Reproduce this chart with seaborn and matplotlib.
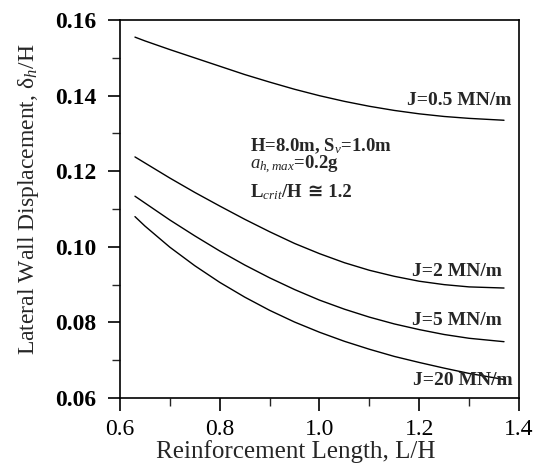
import numpy as np
import pandas as pd
import matplotlib
matplotlib.use("Agg")
import matplotlib.pyplot as plt
import seaborn as sns
from matplotlib.ticker import MultipleLocator

# values
lh = [0.63, 0.65, 0.70, 0.75, 0.80, 0.85, 0.90, 0.95, 1.00,
      1.05, 1.10, 1.15, 1.20, 1.25, 1.30, 1.37]
disp_j05 = [0.1555, 0.1545, 0.1522, 0.1500, 0.1478, 0.1456, 0.1436, 0.1417, 0.1400,
            0.1385, 0.1372, 0.1361, 0.1352, 0.1345, 0.1340, 0.1335]
disp_j2 = [0.1238, 0.1222, 0.1182, 0.1144, 0.1108, 0.1073, 0.1040, 0.1009, 0.0982,
           0.0958, 0.0938, 0.0922, 0.0909, 0.0900, 0.0894, 0.0891]
disp_j5 = [0.1134, 0.1116, 0.1071, 0.1029, 0.0989, 0.0952, 0.0918, 0.0887, 0.0859,
           0.0835, 0.0814, 0.0796, 0.0781, 0.0768, 0.0758, 0.0749]
disp_j20 = [0.1080, 0.1055, 0.0999, 0.0950, 0.0906, 0.0867, 0.0832, 0.0801, 0.0774,
            0.0750, 0.0729, 0.0710, 0.0694, 0.0679, 0.0665, 0.0649]
series_names = ["J=0.5 MN/m", "J=2 MN/m", "J=5 MN/m", "J=20 MN/m"]

df = pd.concat([
    pd.DataFrame({"LH": lh, "disp": d, "J": n})
    for d, n in zip([disp_j05, disp_j2, disp_j5, disp_j20], series_names)
], ignore_index=True)

sns.set_style("ticks")
plt.rcParams['font.family'] = ['Liberation Serif', 'DejaVu Sans']
plt.rcParams['mathtext.fontset'] = 'custom'
plt.rcParams['mathtext.default'] = 'regular'
plt.rcParams['mathtext.rm'] = 'Liberation Serif'
plt.rcParams['mathtext.it'] = 'Liberation Serif:italic'
plt.rcParams['mathtext.bf'] = 'Liberation Serif:bold'

fig = plt.figure(figsize=(5.44, 4.68), dpi=100)
ax = fig.add_axes([0.2206, 0.1496, 0.7334, 0.8074])

sns.lineplot(data=df, x="LH", y="disp", hue="J", palette=["black"] * 4,
             linewidth=1.0, legend=False, ax=ax)

ax.set_xlim(0.6, 1.4)
ax.set_ylim(0.06, 0.16)
ax.xaxis.set_major_locator(MultipleLocator(0.2))
ax.xaxis.set_minor_locator(MultipleLocator(0.1))
ax.yaxis.set_major_locator(MultipleLocator(0.02))
ax.yaxis.set_minor_locator(MultipleLocator(0.01))
ax.xaxis.set_major_formatter(plt.FuncFormatter(lambda v, p: f"{v:.1f}"))
ax.yaxis.set_major_formatter(plt.FuncFormatter(lambda v, p: f"{v:.2f}"))
ax.tick_params(which="major", direction="out", length=9, width=1.2, labelsize=17, colors="black")
ax.tick_params(which="minor", direction="out", length=6, width=1.0)
ax.tick_params(axis="y", pad=8)
ax.tick_params(axis="x", pad=6)
for lbl in ax.get_yticklabels():
    lbl.set_fontweight("bold")
for s in ax.spines.values():
    s.set_linewidth(1.2)
    s.set_color("black")

ax.set_xlabel("Reinforcement Length, L/H", fontsize=18)
ax.set_ylabel(r"Lateral Wall Displacement, $\delta_{\mathit{h}}$/H", fontsize=17)
ax.xaxis.set_label_coords(0.44, -0.112)
ax.yaxis.set_label_coords(-0.198, 0.526)

# curve labels
label_pos = [(1.384, 0.1388), (1.366, 0.0936), (1.366, 0.0806), (1.388, 0.0645)]
for (tx, ty), name in zip(label_pos, series_names):
    ax.text(tx, ty, name, ha="right", va="center", fontsize=14, fontweight="bold")

ax.text(0.861, 0.1267, r"H=8.0m, S$_{\mathit{v}}$=1.0m", fontsize=13.5, fontweight="bold", va="center")
ax.text(0.861, 0.1217, r"$\mathit{a}_{\mathit{h,max}}$=0.2g", fontsize=13.5, fontweight="bold", va="center")
t = ax.text(0.861, 0.1144, r"L$_{\mathit{crit}}$/H", fontsize=13.5, fontweight="bold", va="center")
ax.annotate(" \u2245 1.2", xy=(1, 0.5), xycoords=t, va="center", ha="left",
            fontsize=13.5, fontweight="bold")

fig.savefig("out.png", dpi=100)
